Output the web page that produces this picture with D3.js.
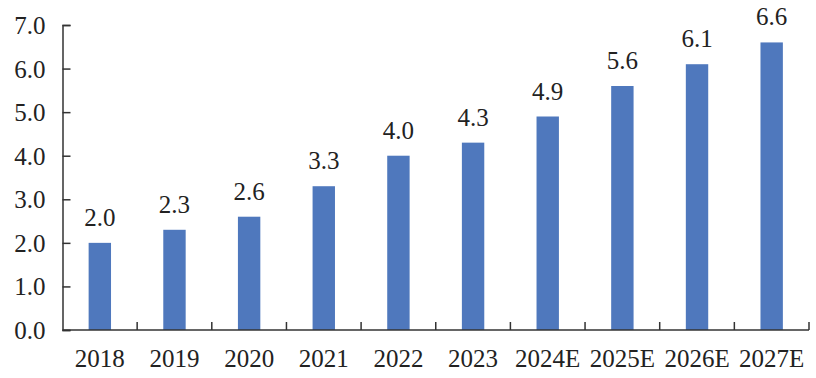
<!DOCTYPE html>
<html lang="zh">
<head>
<meta charset="UTF-8">
<title>chart</title>
<script src="https://d3js.org/d3.v7.min.js"></script>
<style>
  body { margin: 0; background: #fff; }
</style>
</head>
<body>
<div class="chart"></div>
<script>
// 数据
const years = ['2018', '2019', '2020', '2021', '2022', '2023', '2024E', '2025E', '2026E', '2027E'];
const values = [2.0, 2.3, 2.6, 3.3, 4.0, 4.3, 4.9, 5.6, 6.1, 6.6];
const yTicks = [0, 1, 2, 3, 4, 5, 6, 7];

const width = 816, height = 378;
const margin = { top: 25, right: 7, bottom: 48, left: 62.5 };
const FONT = "'Liberation Serif', 'DejaVu Serif', serif";

const svg = d3.select('.chart').append('svg')
  .attr('width', width)
  .attr('height', height);

const x = d3.scaleBand()
  .domain(years)
  .range([margin.left, width - margin.right])
  .paddingInner(0.7)
  .paddingOuter(0.35);

const y = d3.scaleLinear()
  .domain([0, 7])
  .range([height - margin.bottom, margin.top]);

// 柱子
svg.append('g').selectAll('rect')
  .data(values)
  .join('rect')
  .attr('x', (d, i) => x(years[i]))
  .attr('y', d => y(d))
  .attr('width', x.bandwidth())
  .attr('height', d => y(0) - y(d))
  .attr('fill', '#4f78bd');

// 数值标签
svg.append('g').selectAll('text')
  .data(values)
  .join('text')
  .attr('x', (d, i) => x(years[i]) + x.bandwidth() / 2)
  .attr('y', d => y(d) - 17)
  .attr('text-anchor', 'middle')
  .style('font-family', FONT)
  .style('font-size', '25px')
  .style('fill', '#222')
  .text(d => d.toFixed(1));

// Y 轴
const yAxis = d3.axisRight(y)
  .tickValues(yTicks)
  .tickSize(8)
  .tickFormat(d => d.toFixed(1));

const yg = svg.append('g')
  .attr('transform', `translate(${margin.left},0)`)
  .call(yAxis);
yg.select('.domain').attr('stroke', '#333').attr('stroke-width', 1.5);
yg.selectAll('.tick line').attr('stroke', '#333').attr('stroke-width', 1.5);
yg.selectAll('.tick text')
  .attr('x', -17)
  .attr('dy', '0.34em')
  .attr('text-anchor', 'end')
  .style('font-family', FONT)
  .style('font-size', '25px')
  .style('fill', '#222');

// X 轴（刻度在类别之间，向上）
const xg = svg.append('g')
  .attr('transform', `translate(0,${y(0)})`);
const x0 = margin.left, x1 = width - margin.right;
xg.append('line')
  .attr('x1', x0).attr('x2', x1)
  .attr('stroke', '#333').attr('stroke-width', 1.5);
const step = x.step();
const bounds = d3.range(years.length + 1).map(i => x0 + i * step);
xg.selectAll('.sep')
  .data(bounds.slice(1))
  .join('line')
  .attr('class', 'sep')
  .attr('x1', d => d).attr('x2', d => d)
  .attr('y1', 0).attr('y2', -8)
  .attr('stroke', '#333').attr('stroke-width', 1.5);
xg.selectAll('text')
  .data(years)
  .join('text')
  .attr('x', d => x(d) + x.bandwidth() / 2)
  .attr('y', 37)
  .attr('text-anchor', 'middle')
  .style('font-family', FONT)
  .style('font-size', '25px')
  .style('fill', '#222')
  .text(d => d);
</script>
</body>
</html>
